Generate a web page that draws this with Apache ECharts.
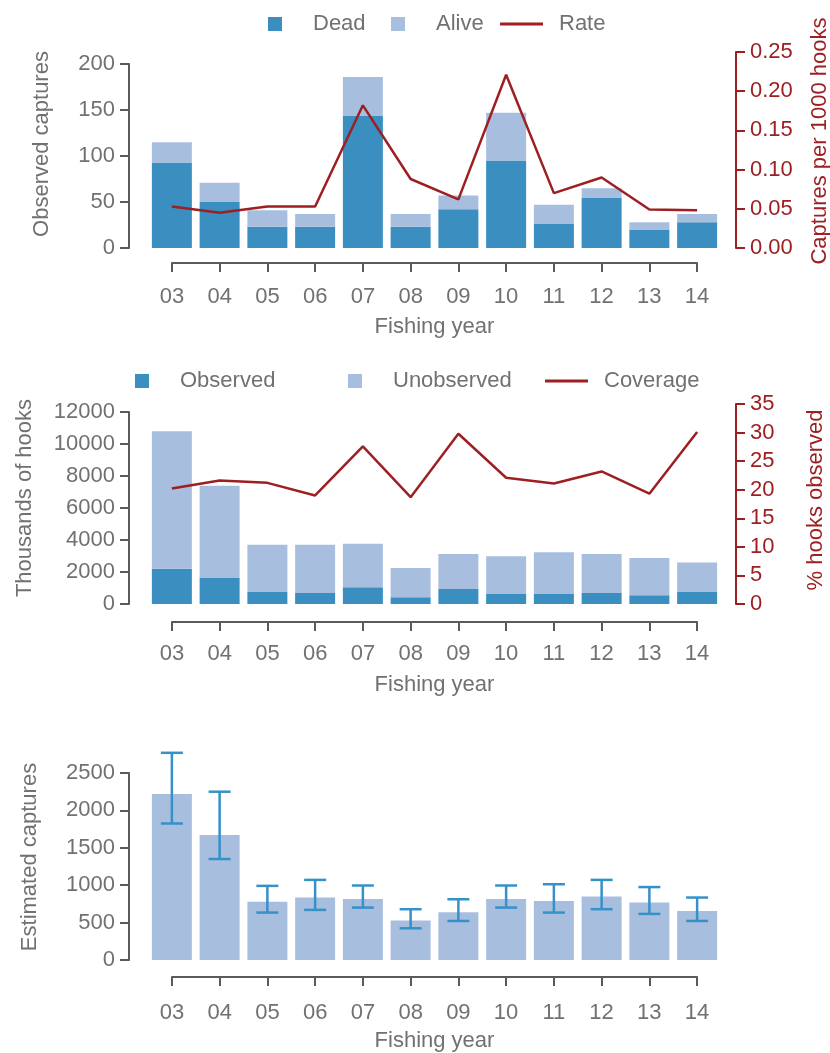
<!DOCTYPE html>
<html>
<head>
<meta charset="utf-8">
<script src="https://cdn.jsdelivr.net/npm/echarts@6/dist/echarts.min.js"></script>
<style>
html,body{margin:0;padding:0;background:#fff;}
#chart{width:830px;height:1053px;}
</style>
</head>
<body>
<div id="chart"></div>
<script>
// ---- data ----
const years = ['03','04','05','06','07','08','09','10','11','12','13','14'];
const dead  = [93, 50, 23, 23, 144, 23, 42, 95, 26, 55, 20, 28];
const alive = [22, 21, 18, 14, 42, 14, 15, 52, 21, 10, 8, 9];
const rate  = [0.053, 0.045, 0.053, 0.053, 0.182, 0.088, 0.062, 0.221, 0.070, 0.090, 0.049, 0.048];

const observedHooks   = [2200, 1620, 750, 690, 1040, 420, 940, 650, 650, 690, 540, 750];
const unobservedHooks = [8600, 5770, 2960, 3020, 2730, 1830, 2190, 2330, 2580, 2440, 2330, 1850];
const coverage        = [20.2, 21.6, 21.2, 19.0, 27.6, 18.7, 29.8, 22.1, 21.1, 23.2, 19.3, 30.1];

const estimated = [2220, 1670, 780, 835, 817, 527, 638, 817, 790, 848, 768, 656];
const estLower  = [1825, 1350, 634, 670, 701, 424, 522, 701, 634, 679, 616, 522];
const estUpper  = [2770, 2250, 991, 1071, 996, 679, 812, 996, 1013, 1071, 975, 835];

const captureTicks  = [0, 50, 100, 150, 200];
const rateTicks     = [0, 0.05, 0.10, 0.15, 0.20, 0.25];
const hookTicks     = [0, 2000, 4000, 6000, 8000, 10000, 12000];
const coverageTicks = [0, 5, 10, 15, 20, 25, 30, 35];
const estTicks      = [0, 500, 1000, 1500, 2000, 2500];

// ---- styles ----
const FONT = 'Liberation Sans';
const GREY = '#717171';
const AXIS = '#5a5a5a';
const RED = '#9d1f22';
const DARK = '#3a8ec0';
const LIGHT = '#a8bedf';
const ERR = '#3591c8';
const FS = 22;

function tickSpec(t){ return {min: t[0], max: t[t.length-1], interval: t[1]-t[0]}; }

function leftY(gridIndex, ticks, name, gap, shift){
  const s = tickSpec(ticks);
  return {
    type:'value', gridIndex, position:'left', offset:19,
    min:s.min, max:s.max, interval:s.interval,
    name, nameLocation:'middle', nameGap:gap, nameRotate:90, nameMoveOverlap:false,
    nameTextStyle:{color:GREY, fontSize:FS, fontFamily:FONT, padding:[0,0,0,shift]},
    axisLine:{show:true, lineStyle:{color:AXIS, width:2}},
    axisTick:{show:true, length:9, lineStyle:{color:AXIS, width:2}},
    axisLabel:{color:GREY, fontSize:FS, fontFamily:FONT, margin:14, formatter: v => String(v)},
    splitLine:{show:false}
  };
}
function rightY(gridIndex, ticks, name, gap, shift, fmt){
  const s = tickSpec(ticks);
  return {
    type:'value', gridIndex, position:'right', offset:15,
    min:s.min, max:s.max, interval:s.interval,
    name, nameLocation:'middle', nameGap:gap, nameRotate:90, nameMoveOverlap:false,
    nameTextStyle:{color:RED, fontSize:FS, fontFamily:FONT, padding:[0,0,0,shift]},
    axisLine:{show:true, lineStyle:{color:RED, width:2}},
    axisTick:{show:true, length:9, lineStyle:{color:RED, width:2}},
    axisLabel:{color:RED, fontSize:FS, fontFamily:FONT, margin:14, formatter: fmt},
    splitLine:{show:false}
  };
}
function hiddenY(gridIndex){ return {type:'value', gridIndex, show:false}; }
function hiddenX(gridIndex){ return {type:'category', gridIndex, data:years, show:false, boundaryGap:true}; }
function shownX(gridIndex, gap, margin){
  return {
    type:'category', gridIndex, data:years, boundaryGap:false, position:'bottom',
    name:'Fishing year', nameLocation:'middle', nameGap:gap, nameMoveOverlap:false,
    nameTextStyle:{color:GREY, fontSize:FS, fontFamily:FONT},
    axisLine:{show:true, lineStyle:{color:AXIS, width:2}},
    axisTick:{show:true, length:9, interval:0, lineStyle:{color:AXIS, width:2}},
    axisLabel:{color:GREY, fontSize:FS, fontFamily:FONT, margin:margin, interval:0},
    splitLine:{show:false}
  };
}
function grid(top, height, axisRow){
  return axisRow
    ? {left:172, right:133, top, height, outerBoundsMode:'none', containLabel:false}
    : {left:148, right:109, top, height, outerBoundsMode:'none', containLabel:false};
}
function legendItem(name, left, top, icon){
  const isLine = icon === 'line';
  return {
    data:[name], left, top, icon:'rect',
    itemWidth: isLine ? 43 : 14, itemHeight: isLine ? 3 : 14,
    itemGap:0, selectedMode:false,
    textStyle:{color:GREY, fontSize:FS, fontFamily:FONT, padding:[0,0,0, isLine ? 11 : 26]}
  };
}

function renderErr(params, api){
  const x = api.value(0);
  const lo = api.coord([x, api.value(1)]);
  const hi = api.coord([x, api.value(2)]);
  const c = 11;
  const st = {stroke:ERR, lineWidth:2.5};
  return {type:'group', children:[
    {type:'line', shape:{x1:lo[0], y1:lo[1], x2:hi[0], y2:hi[1]}, style:st},
    {type:'line', shape:{x1:hi[0]-c, y1:hi[1], x2:hi[0]+c, y2:hi[1]}, style:st},
    {type:'line', shape:{x1:lo[0]-c, y1:lo[1], x2:lo[0]+c, y2:lo[1]}, style:st}
  ]};
}

const option = {
  animation:false,
  textStyle:{fontFamily:FONT},
  legend:[
    legendItem('Dead', 263, 8, 'rect'),
    legendItem('Alive', 386, 8, 'rect'),
    legendItem('Rate', 495, 8, 'line'),
    legendItem('Observed', 130, 365, 'rect'),
    legendItem('Unobserved', 343, 365, 'rect'),
    legendItem('Coverage', 540, 365, 'line')
  ],
  grid:[
    grid(64, 184), grid(52, 196), grid(262, 1, true),
    grid(412, 192), grid(404, 200), grid(621, 1, true),
    grid(773, 187), grid(976, 1, true)
  ],
  xAxis:[
    hiddenX(0), hiddenX(1), shownX(2, 53, 23),
    hiddenX(3), hiddenX(4), shownX(5, 52, 21),
    hiddenX(6), shownX(7, 53, 25)
  ],
  yAxis:[
    leftY(0, captureTicks, 'Observed captures', 76, 24),
    rightY(1, rateTicks, 'Captures per 1000 hooks', 73, 18, v => v.toFixed(2)),
    hiddenY(2),
    leftY(3, hookTicks, 'Thousands of hooks', 93, 20),
    rightY(4, coverageTicks, '% hooks observed', 69, 8, v => String(v)),
    hiddenY(5),
    leftY(6, estTicks, 'Estimated captures', 88, 19),
    hiddenY(7)
  ],
  series:[
    {name:'Dead', type:'bar', xAxisIndex:0, yAxisIndex:0, stack:'c1', data:dead, barWidth:40, itemStyle:{color:DARK}},
    {name:'Alive', type:'bar', xAxisIndex:0, yAxisIndex:0, stack:'c1', data:alive, barWidth:40, itemStyle:{color:LIGHT}},
    {name:'Rate', type:'line', xAxisIndex:1, yAxisIndex:1, data:rate, symbol:'none', z:5, lineStyle:{color:RED, width:2.5}, itemStyle:{color:RED}},
    {name:'Observed', type:'bar', xAxisIndex:3, yAxisIndex:3, stack:'c2', data:observedHooks, barWidth:40, itemStyle:{color:DARK}},
    {name:'Unobserved', type:'bar', xAxisIndex:3, yAxisIndex:3, stack:'c2', data:unobservedHooks, barWidth:40, itemStyle:{color:LIGHT}},
    {name:'Coverage', type:'line', xAxisIndex:4, yAxisIndex:4, data:coverage, symbol:'none', z:5, lineStyle:{color:RED, width:2.5}, itemStyle:{color:RED}},
    {name:'Estimated', type:'bar', xAxisIndex:6, yAxisIndex:6, data:estimated, barWidth:40, itemStyle:{color:LIGHT}},
    {name:'CI', type:'custom', xAxisIndex:6, yAxisIndex:6, renderItem:renderErr, clip:false, z:5,
     encode:{x:0, y:[1,2]}, data: years.map((y,i)=>[i, estLower[i], estUpper[i]])}
  ]
};

const chart = echarts.init(document.getElementById('chart'), null, {renderer:'canvas'});
chart.setOption(option);
</script>
</body>
</html>
